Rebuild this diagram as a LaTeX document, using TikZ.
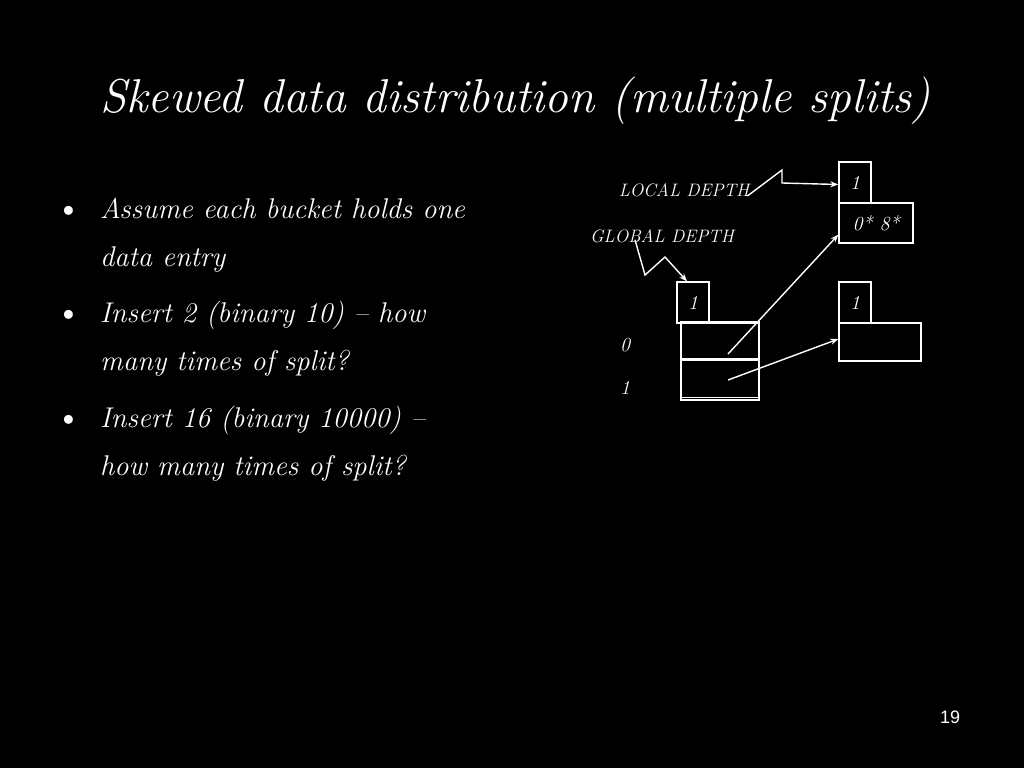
\documentclass[tikz,border=0pt]{standalone}
\usepackage{fontspec}
\newfontfamily\numfont{Liberation Sans}
\usetikzlibrary{arrows.meta}
\begin{document}
\begin{tikzpicture}[x=1pt,y=-1pt,
  every node/.style={text=white},
  box/.style={draw=white,line width=1.3pt,inner sep=0pt,minimum width=#1},
  lbl/.style={font=\fontsize{18}{18}\selectfont\itshape,inner sep=0pt},
  big/.style={font=\fontsize{20}{20}\selectfont\itshape,inner sep=0pt},
  txt/.style={font=\fontsize{28.5}{28.5}\selectfont\itshape,anchor=base west,inner sep=0pt},
  bul/.style={font=\fontsize{40}{40}\selectfont,anchor=base,inner sep=0pt},
  conn/.style={draw=white,line width=1.4pt,-{Stealth[length=8pt,width=6pt]}}]
\useasboundingbox[fill=black] (0,0) rectangle (1024,768);
% title
\node[anchor=base west,inner sep=0pt,font=\fontsize{47.5}{47.5}\selectfont\itshape] (title) at (100,112) {Skewed data distribution (multiple splits)};
% bullets
\node[bul] (b1) at (69,221) {\textbullet};
\node[txt] (l1) at (100,218) {Assume each bucket holds one};
\node[txt] (l2) at (100,266) {data entry};
\node[bul] (b2) at (69,325) {\textbullet};
\node[txt] (l3) at (100,322) {Insert 2 (binary 10) -- how};
\node[txt] (l4) at (100,370) {many times of split?};
\node[bul] (b3) at (69,430) {\textbullet};
\node[txt] (l5) at (100,427) {Insert 16 (binary 10000) --};
\node[txt] (l6) at (100,475) {how many times of split?};
% diagram
\node[box=32pt,minimum height=41pt,big] (ld) at (855,182.5) {1};
\node[box=74pt,minimum height=40pt,big] (bA) at (876,223) {0* 8*};
\node[box=32pt,minimum height=41pt,big] (gd) at (693,302.5) {1};
\node[box=78pt,minimum height=78pt] (dir) at (720,361) {};
\node[box=78pt,minimum height=36pt] (d0) at (720,341) {};
\node[box=78pt,minimum height=37pt] (d1) at (720,379) {};
\node[box=32pt,minimum height=41pt,big] (rd) at (855,302.5) {1};
\node[box=82pt,minimum height=38pt] (bB) at (880,342) {};
\node[lbl] (ldt) at (684,190) {LOCAL DEPTH};
\node[lbl] (gdt) at (662,236) {GLOBAL DEPTH};
\node[big] (i0) at (625,345) {0};
\node[big] (i1) at (625,388) {1};
% connectors
\coordinate (p0) at (728,354);
\coordinate (p1) at (728,380);
\draw[conn] ([xshift=-2pt,yshift=-6pt]ldt.east) -- (782,170) -- (782,183) -- ([yshift=-2pt]ld.west);
\draw[conn] ([xshift=-27pt,yshift=3pt]gdt.south) -- (645,275) -- (665,257) -- ([xshift=-6pt]gd.north);
\draw[conn] (p0) -- ([yshift=9pt]bA.south west);
\draw[conn] (p1) -- ([yshift=3pt]bB.west);
% page number
\node[font=\numfont\fontsize{18}{18}\selectfont,inner sep=0pt] (pg) at (950,717) {19};
\end{tikzpicture}
\end{document}
